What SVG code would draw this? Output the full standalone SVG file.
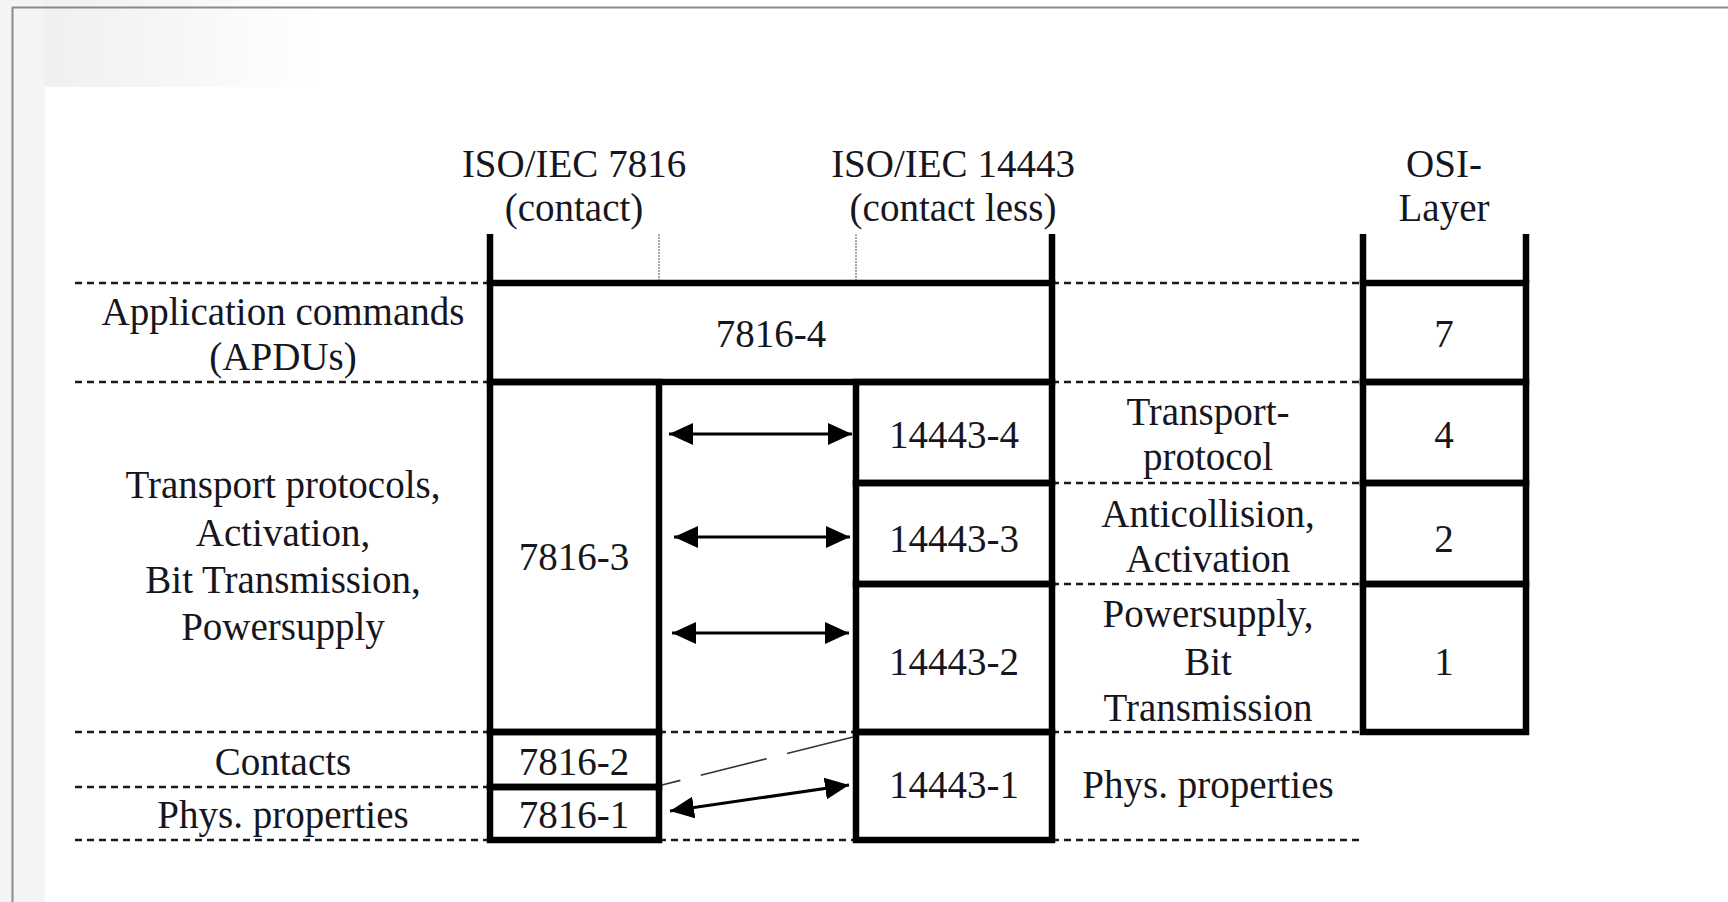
<svg xmlns="http://www.w3.org/2000/svg" width="1728" height="902" viewBox="0 0 1728 902">
<style>
  text { font-family: "Liberation Serif", "Times New Roman", serif; font-size: 39px; fill: #161620; text-anchor: middle; }
  .box { fill: none; stroke: #000; stroke-width: 6.5; stroke-linecap: square; }
  .col { stroke: #000; stroke-width: 6.5; fill: none; }
  .dash { stroke: #1a1a1a; stroke-width: 2.5; stroke-dasharray: 7 5; fill: none; }
  .dot { stroke: #a8a8a8; stroke-width: 2; stroke-dasharray: 2 1; fill: none; }
  .arr { stroke: #000; stroke-width: 3; fill: none; marker-start: url(#ah); marker-end: url(#ah); }
  .thin { stroke: #333; stroke-width: 1.6; stroke-dasharray: 68 21; fill: none; }
</style>
<defs>
  <marker id="ah" viewBox="0 0 24 22" refX="24" refY="11" markerWidth="24" markerHeight="22" markerUnits="userSpaceOnUse" orient="auto-start-reverse">
    <path d="M0,0 L24,11 L0,22 z" fill="#000"/>
  </marker>
  <linearGradient id="bg" x1="0" y1="0" x2="1" y2="0">
    <stop offset="0" stop-color="#eeeeee"/>
    <stop offset="0.4" stop-color="#f4f4f4"/>
    <stop offset="1" stop-color="#ffffff"/>
  </linearGradient>
</defs>

<g id="background">
  <rect x="0" y="0" width="1728" height="902" fill="#ffffff"/>
  <rect x="0" y="0" width="320" height="87" fill="url(#bg)"/>
  <rect x="0" y="0" width="45" height="902" fill="#f4f4f4"/>
  <rect x="45" y="87" width="1683" height="815" fill="#ffffff"/>
  <line x1="12" y1="7.5" x2="1728" y2="7.5" stroke="#8a8a8a" stroke-width="2"/>
  <line x1="12.5" y1="7" x2="12.5" y2="902" stroke="#8a8a8a" stroke-width="2"/>
</g>

<g id="guides">
  <line class="dash" x1="75" y1="283" x2="490" y2="283"/>
  <line class="dash" x1="75" y1="382" x2="490" y2="382"/>
  <line class="dash" x1="75" y1="732" x2="490" y2="732"/>
  <line class="dash" x1="75" y1="787" x2="490" y2="787"/>
  <line class="dash" x1="75" y1="840" x2="490" y2="840"/>
  <line class="dash" x1="659" y1="732" x2="856" y2="732"/>
  <line class="dash" x1="659" y1="840" x2="856" y2="840"/>
  <line class="dash" x1="1052" y1="283" x2="1363" y2="283"/>
  <line class="dash" x1="1052" y1="382" x2="1363" y2="382"/>
  <line class="dash" x1="1052" y1="483" x2="1363" y2="483"/>
  <line class="dash" x1="1052" y1="584" x2="1363" y2="584"/>
  <line class="dash" x1="1052" y1="732" x2="1363" y2="732"/>
  <line class="dash" x1="1052" y1="840" x2="1363" y2="840"/>
  <line class="dot" x1="659" y1="234" x2="659" y2="280"/>
  <line class="dot" x1="856" y1="234" x2="856" y2="280"/>
</g>

<g id="columns">
  <line class="col" x1="490" y1="234" x2="490" y2="283"/>
  <line class="col" x1="1052" y1="234" x2="1052" y2="283"/>
  <line class="col" x1="1363" y1="234" x2="1363" y2="283"/>
  <line class="col" x1="1526" y1="234" x2="1526" y2="283"/>
</g>

<g id="header-7816"><text x="574" y="177">ISO/IEC 7816</text><text x="574" y="221">(contact)</text></g>
<g id="header-14443"><text x="953" y="177">ISO/IEC 14443</text><text x="953" y="221">(contact less)</text></g>
<g id="header-osi"><text x="1444" y="177">OSI-</text><text x="1444" y="221">Layer</text></g>

<g id="label-apdu"><text x="283" y="325">Application commands</text><text x="283" y="370">(APDUs)</text></g>
<g id="label-transport"><text x="283" y="498">Transport protocols,</text><text x="283" y="546">Activation,</text><text x="283" y="593">Bit Transmission,</text><text x="283" y="640">Powersupply</text></g>
<g id="label-contacts"><text x="283" y="775">Contacts</text></g>
<g id="label-phys-left"><text x="283" y="828">Phys. properties</text></g>

<g id="n7816-4"><rect class="box" x="490" y="283" width="562" height="99"/><text x="771" y="347">7816-4</text></g>
<g id="n7816-3"><rect class="box" x="490" y="382" width="169" height="350"/><text x="574" y="570">7816-3</text></g>
<g id="n7816-2"><rect class="box" x="490" y="732" width="169" height="55"/><text x="574" y="775">7816-2</text></g>
<g id="n7816-1"><rect class="box" x="490" y="787" width="169" height="53"/><text x="574" y="828">7816-1</text></g>

<g id="n14443-4"><rect class="box" x="856" y="382" width="196" height="101"/><text x="954" y="448">14443-4</text></g>
<g id="n14443-3"><rect class="box" x="856" y="483" width="196" height="101"/><text x="954" y="552">14443-3</text></g>
<g id="n14443-2"><rect class="box" x="856" y="584" width="196" height="148"/><text x="954" y="675">14443-2</text></g>
<g id="n14443-1"><rect class="box" x="856" y="732" width="196" height="108"/><text x="954" y="798">14443-1</text></g>

<g id="label-transport-protocol"><text x="1208" y="425">Transport-</text><text x="1208" y="470">protocol</text></g>
<g id="label-anticollision"><text x="1208" y="527">Anticollision,</text><text x="1208" y="572">Activation</text></g>
<g id="label-powersupply"><text x="1208" y="627">Powersupply,</text><text x="1208" y="675">Bit</text><text x="1208" y="721">Transmission</text></g>
<g id="label-phys-right"><text x="1208" y="798">Phys. properties</text></g>

<g id="osi-7"><rect class="box" x="1363" y="283" width="163" height="99"/><text x="1444" y="347">7</text></g>
<g id="osi-4"><rect class="box" x="1363" y="382" width="163" height="101"/><text x="1444" y="448">4</text></g>
<g id="osi-2"><rect class="box" x="1363" y="483" width="163" height="101"/><text x="1444" y="552">2</text></g>
<g id="osi-1"><rect class="box" x="1363" y="584" width="163" height="148"/><text x="1444" y="675">1</text></g>

<g id="connectors">
  <line class="arr" x1="669" y1="434" x2="852" y2="434"/>
  <line class="arr" x1="674" y1="537" x2="850" y2="537"/>
  <line class="arr" x1="672" y1="633" x2="849" y2="633"/>
  <line class="arr" x1="670" y1="811" x2="849" y2="785"/>
  <line class="thin" x1="853" y1="737" x2="662" y2="785"/>
</g>
</svg>
